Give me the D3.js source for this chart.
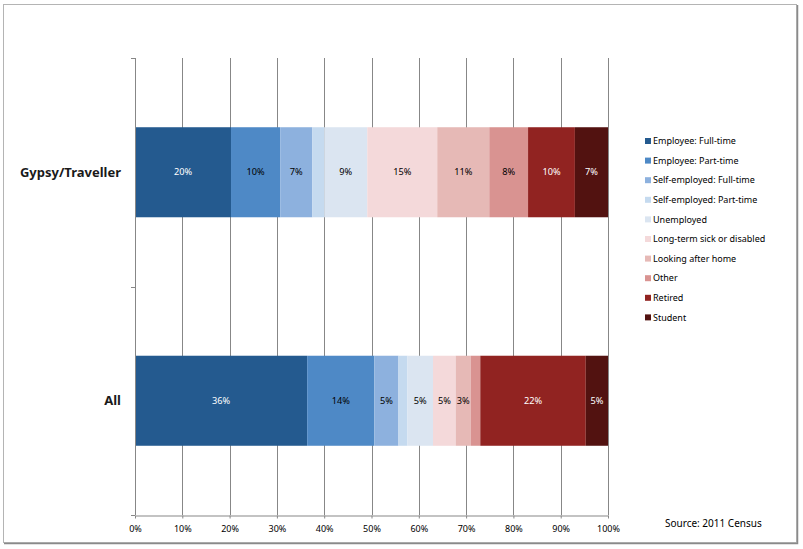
<!DOCTYPE html>
<html>
<head>
<meta charset="utf-8">
<script src="https://cdn.jsdelivr.net/npm/d3@7"></script>
<style>
body{margin:0;background:#fff;}
text{font-family:"Noto Sans","Open Sans",sans-serif;}
</style>
</head>
<body>
<svg></svg>
<script>
// categories (top to bottom) and the ten economic activity series
const categories = ["Gypsy/Traveller", "All"];
const seriesNames = [
  "Employee: Full-time",
  "Employee: Part-time",
  "Self-employed: Full-time",
  "Self-employed: Part-time",
  "Unemployed",
  "Long-term sick or disabled",
  "Looking after home",
  "Other",
  "Retired",
  "Student"
];
const seriesColors = ["#245a8f","#4e89c6","#8db1de","#c5daef","#dbe5f1",
                      "#f4d9da","#e6b9b6","#d99391","#912321","#521210"];
const labelColors = ["#fff","#000","#000","#000","#000","#000","#000","#000","#fff","#fff"];

// percentages
const gypsyValues = [20.3, 10.4, 6.8, 2.5, 9.1, 14.8, 11.0, 8.2, 9.9, 7.0];
const allValues   = [36.4, 14.2, 5.1, 1.9, 5.4, 4.8, 3.2, 2.0, 22.3, 4.7];

const xTicks = [0,10,20,30,40,50,60,70,80,90,100];

const canvasWidth = 803;
const canvasHeight = 549;
const plotLeft = 135, plotRight = 608, plotTop = 58, plotBottom = 515;

var table = [gypsyValues, allValues].map(function(vals, i){
    var row = {category: categories[i]};
    seriesNames.forEach(function(s, j){ row[s] = vals[j]; });
    return row;
});

var svg = d3.select("svg")
    .attr("width", canvasWidth)
    .attr("height", canvasHeight);

// outer frame
svg.append("rect")
    .attr("x", 3.5).attr("y", 4.5)
    .attr("width", 793).attr("height", 538)
    .attr("fill", "#fff")
    .attr("stroke", "#b4b4b4");
svg.append("path")
    .attr("d", "M797.5,5V543.5H4")
    .attr("fill", "none")
    .attr("stroke", "#8a8a8a")
    .attr("stroke-width", 1.5);

var x = d3.scaleLinear().domain([0,100]).range([plotLeft, plotRight]);
var y = d3.scaleBand().domain(categories).range([plotTop, plotBottom])
    .paddingInner(0.606).paddingOuter(0.303);

// vertical gridlines
svg.append("g").selectAll("line")
    .data(xTicks.slice(1))
    .enter().append("line")
    .attr("x1", function(d){ return Math.round(x(d)) + 0.5; })
    .attr("x2", function(d){ return Math.round(x(d)) + 0.5; })
    .attr("y1", plotTop)
    .attr("y2", plotBottom)
    .style("stroke", "#878787")
    .style("stroke-width", 1);

// stacked bars
var stack = d3.stack().keys(seriesNames);
var layers = stack(table);

var layerG = svg.append("g").selectAll("g")
    .data(layers)
    .enter().append("g")
    .attr("fill", function(d, i){ return seriesColors[i]; });

layerG.selectAll("rect")
    .data(function(d){ return d; })
    .enter().append("rect")
    .attr("x", function(d){ return x(d[0]); })
    .attr("y", function(d){ return y(d.data.category); })
    .attr("width", function(d){ return x(d[1]) - x(d[0]); })
    .attr("height", y.bandwidth());

layerG.each(function(layer, li){
    d3.select(this).selectAll("text")
        .data(layer.filter(function(d){ return d[1] - d[0] >= 3; }))
        .enter().append("text")
        .attr("x", function(d){ return (x(d[0]) + x(d[1])) / 2; })
        .attr("y", function(d){ return y(d.data.category) + y.bandwidth()/2; })
        .attr("dy", "0.35em")
        .attr("text-anchor", "middle")
        .attr("fill", labelColors[li])
        .style("font-size", "9.2px")
        .text(function(d){ return Math.round(d[1] - d[0]) + "%"; });
});

// x axis
var xAxis = d3.axisBottom(x)
    .tickValues(xTicks)
    .tickFormat(function(d){ return d + "%"; })
    .tickSizeInner(3)
    .tickSizeOuter(0)
    .tickPadding(7);
var xg = svg.append("g")
    .attr("transform", "translate(0," + (plotBottom + 0.5) + ")")
    .call(xAxis);
xg.select(".domain").attr("stroke", "#878787");
xg.selectAll(".tick line").attr("stroke", "#878787");
xg.selectAll(".tick text")
    .style("font-size", "9px")
    .attr("fill", "#000");

// y axis (category axis, ticks between categories)
var yBounds = [plotTop, (plotTop + plotBottom) / 2, plotBottom];
var yg = svg.append("g");
yg.append("line")
    .attr("x1", plotLeft + 0.5).attr("x2", plotLeft + 0.5)
    .attr("y1", plotTop).attr("y2", plotBottom)
    .style("stroke", "#878787");
yg.selectAll(".ytick")
    .data(yBounds)
    .enter().append("line")
    .attr("class", "ytick")
    .attr("x1", plotLeft - 4).attr("x2", plotLeft)
    .attr("y1", function(d){ return Math.round(d) + 0.5; })
    .attr("y2", function(d){ return Math.round(d) + 0.5; })
    .style("stroke", "#878787");
yg.selectAll(".ylabel")
    .data(categories)
    .enter().append("text")
    .attr("class", "ylabel")
    .attr("x", 121)
    .attr("y", function(d){ return y(d) + y.bandwidth()/2; })
    .attr("dy", "0.35em")
    .attr("text-anchor", "end")
    .style("font-size", "13px")
    .style("font-weight", "bold")
    .attr("fill", "#1a1a1a")
    .text(function(d){ return d; });

// legend
var legend = svg.append("g");
legend.selectAll("rect")
    .data(seriesNames)
    .enter().append("rect")
    .attr("x", 645)
    .attr("y", function(d, i){ return 138 + i*19.6; })
    .attr("width", 6)
    .attr("height", 6)
    .attr("fill", function(d, i){ return seriesColors[i]; });
legend.selectAll("text")
    .data(seriesNames)
    .enter().append("text")
    .attr("x", 653)
    .attr("y", function(d, i){ return 141 + i*19.6; })
    .attr("dy", "0.35em")
    .style("font-size", "9px")
    .attr("fill", "#000")
    .text(function(d){ return d; });

svg.append("text")
    .attr("x", 665)
    .attr("y", 523)
    .attr("dy", "0.35em")
    .style("font-size", "10px")
    .attr("fill", "#000")
    .text("Source: 2011 Census");
</script>
</body>
</html>
